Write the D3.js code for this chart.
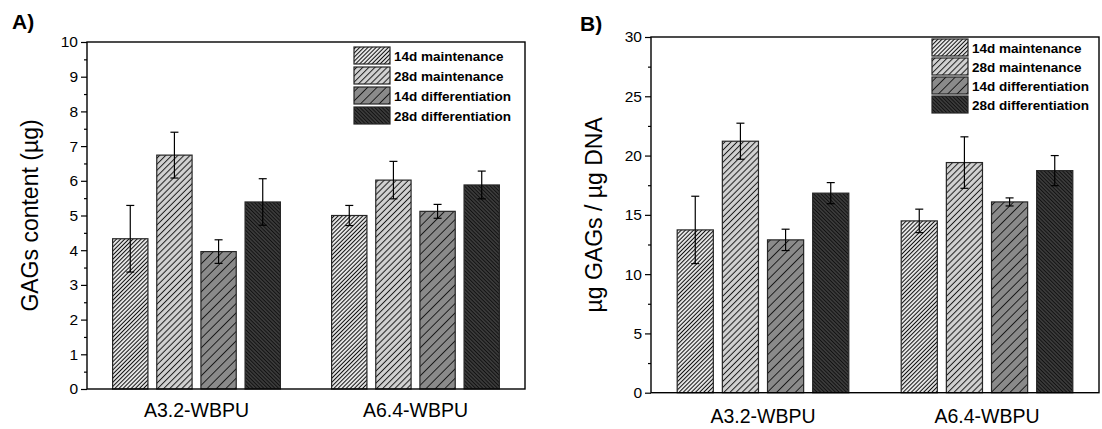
<!DOCTYPE html>
<html>
<head>
<meta charset="utf-8">
<script src="https://cdn.jsdelivr.net/npm/d3@7"></script>
<style>
  html, body { margin: 0; padding: 0; background: #fff; }
  svg { display: block; font-family: "Liberation Sans", Arial, sans-serif; }
</style>
</head>
<body>
<svg id="fig" width="1102" height="429"></svg>
<script>
// Sample groups and culture conditions
const groups = ["A3.2-WBPU", "A6.4-WBPU"];
const conditions = ["14d maintenance", "28d maintenance", "14d differentiation", "28d differentiation"];

// Panel A: GAGs content (µg), one row per group, one entry per condition
const gagContent    = [[4.33, 6.74, 3.96, 5.39], [5.00, 6.02, 5.12, 5.88]];
const gagContentErr = [[0.96, 0.66, 0.34, 0.67], [0.29, 0.54, 0.20, 0.40]];

// Panel B: µg GAGs per µg DNA
const gagPerDna    = [[13.73, 21.21, 12.89, 16.83], [14.49, 19.41, 16.09, 18.73]];
const gagPerDnaErr = [[2.84, 1.52, 0.90, 0.89], [0.99, 2.17, 0.34, 1.27]];

// Axis tick values
const ticksA      = [0, 1, 2, 3, 4, 5, 6, 7, 8, 9, 10];
const minorTicksA = [0.5, 1.5, 2.5, 3.5, 4.5, 5.5, 6.5, 7.5, 8.5, 9.5];
const ticksB      = [0, 5, 10, 15, 20, 25, 30];
const minorTicksB = [2.5, 7.5, 12.5, 17.5, 22.5, 27.5];

const FONT = "'Liberation Sans', Arial, sans-serif";

const svg = d3.select("#fig");
svg.append("rect").attr("width", 1102).attr("height", 429).attr("fill", "#fff");

// Hatch fills: background, line colour, line spacing, line width, angle
const hatchStyles = [
  { bg: "#ffffff", line: "#111", gap: 2.9, w: 1.2, angle: 45 },
  { bg: "#d2d2d2", line: "#1a1a1a", gap: 4.3, w: 1.0, angle: 45 },
  { bg: "#8a8a8a", line: "#1a1a1a", gap: 6.6, w: 1.0, angle: 45 },
  { bg: "#444444", line: "#111111", gap: 2.6, w: 1.2, angle: -45 }
];

const defs = svg.append("defs");
hatchStyles.forEach((h, i) => {
  const p = defs.append("pattern")
    .attr("id", "hatch" + i)
    .attr("patternUnits", "userSpaceOnUse")
    .attr("width", h.gap).attr("height", 10)
    .attr("patternTransform", `rotate(${h.angle})`);
  p.append("rect").attr("width", h.gap).attr("height", 10).attr("fill", h.bg);
  p.append("line").attr("x1", h.gap / 2).attr("x2", h.gap / 2)
    .attr("y1", 0).attr("y2", 10)
    .attr("stroke", h.line).attr("stroke-width", h.w);
});

function drawPanel(cfg) {
  const { left, right, top, bottom, values, errors, domainMax, ticks, minor,
          yLabel, yLabelX, panelLabel, panelLabelPos, legendPos, legendStep, xLabelPad } = cfg;
  const g = svg.append("g");

  const y = d3.scaleLinear().domain([0, domainMax]).range([bottom, top]);
  const x0 = d3.scaleBand().domain(groups).range([left, right]).padding(0);
  const x1 = d3.scaleBand().domain(conditions).range([0, x0.bandwidth()])
    .paddingInner(0.2).paddingOuter(0.58);

  // bars
  const grp = g.selectAll("g.grp").data(groups).join("g")
    .attr("transform", d => `translate(${x0(d)},0)`);
  grp.each(function (gName, gi) {
    const sel = d3.select(this);
    const rows = conditions.map((c, ci) => ({ c, ci, v: values[gi][ci], e: errors[gi][ci] }));
    sel.selectAll("rect").data(rows).join("rect")
      .attr("x", d => x1(d.c))
      .attr("y", d => y(d.v))
      .attr("width", x1.bandwidth())
      .attr("height", d => y(0) - y(d.v))
      .attr("fill", d => `url(#hatch${d.ci})`)
      .attr("stroke", "#262626").attr("stroke-width", 1.2);
    // error bars
    const eb = sel.selectAll("g.err").data(rows).join("g").attr("class", "err")
      .attr("stroke", "#000").attr("stroke-width", 1.2);
    const cx = d => x1(d.c) + x1.bandwidth() / 2;
    eb.append("line").attr("x1", cx).attr("x2", cx)
      .attr("y1", d => y(d.v + d.e)).attr("y2", d => y(d.v - d.e));
    eb.append("line").attr("x1", d => cx(d) - 4).attr("x2", d => cx(d) + 4)
      .attr("y1", d => y(d.v + d.e)).attr("y2", d => y(d.v + d.e));
    eb.append("line").attr("x1", d => cx(d) - 4).attr("x2", d => cx(d) + 4)
      .attr("y1", d => y(d.v - d.e)).attr("y2", d => y(d.v - d.e));
  });

  // y axis: minor then major ticks
  const minorAxis = g.append("g").attr("transform", `translate(${left},0)`)
    .call(d3.axisLeft(y).tickValues(minor).tickSize(3).tickFormat(""));
  minorAxis.select(".domain").remove();
  minorAxis.selectAll("line").attr("stroke", "#000").attr("stroke-width", 1.2);

  const majorAxis = g.append("g").attr("transform", `translate(${left},0)`)
    .call(d3.axisLeft(y).tickValues(ticks).tickSize(6).tickPadding(3));
  majorAxis.select(".domain").remove();
  majorAxis.selectAll("line").attr("stroke", "#000").attr("stroke-width", 1.2);
  majorAxis.selectAll("text").attr("font-size", 15.5).attr("fill", "#000")
    .attr("font-family", FONT);

  // x axis labels
  const xAxis = g.append("g").attr("transform", `translate(0,${bottom})`)
    .call(d3.axisBottom(x0).tickSize(0).tickPadding(xLabelPad));
  xAxis.select(".domain").remove();
  xAxis.selectAll("text").attr("font-size", 19.5).attr("fill", "#000")
    .attr("font-family", FONT);

  // frame
  g.append("rect").attr("x", left).attr("y", top)
    .attr("width", right - left).attr("height", bottom - top)
    .attr("fill", "none").attr("stroke", "#000").attr("stroke-width", 1.4);

  // y label
  g.append("text")
    .attr("transform", `translate(${yLabelX},${(top + bottom) / 2}) rotate(-90)`)
    .attr("text-anchor", "middle").attr("font-size", 23).attr("fill", "#000")
    .attr("font-family", FONT)
    .text(yLabel);

  // panel label
  g.append("text").attr("x", panelLabelPos[0]).attr("y", panelLabelPos[1])
    .attr("font-size", 21).attr("font-weight", "bold").attr("fill", "#000")
    .attr("font-family", FONT)
    .text(panelLabel);

  // legend
  const lg = g.append("g").attr("transform", `translate(${legendPos[0]},${legendPos[1]})`);
  const items = lg.selectAll("g").data(conditions).join("g")
    .attr("transform", (d, i) => `translate(0,${i * legendStep})`);
  items.append("rect").attr("width", 36).attr("height", 17)
    .attr("fill", (d, i) => `url(#hatch${i})`)
    .attr("stroke", "#262626").attr("stroke-width", 1.2);
  items.append("text").attr("x", 40).attr("y", 14)
    .attr("font-size", 13.5).attr("font-weight", "bold").attr("fill", "#000")
    .attr("font-family", FONT)
    .text(d => d);
}

drawPanel({
  left: 87, right: 525, top: 42, bottom: 389,
  values: gagContent, errors: gagContentErr, domainMax: 10,
  ticks: ticksA, minor: minorTicksA,
  yLabel: "GAGs content (\u00b5g)", yLabelX: 38,
  panelLabel: "A)", panelLabelPos: [12, 29],
  legendPos: [354, 47], legendStep: 20, xLabelPad: 14
});

drawPanel({
  left: 651, right: 1099, top: 37, bottom: 392.7,
  values: gagPerDna, errors: gagPerDnaErr, domainMax: 30,
  ticks: ticksB, minor: minorTicksB,
  yLabel: "\u00b5g GAGs / \u00b5g DNA", yLabelX: 602,
  panelLabel: "B)", panelLabelPos: [580, 31],
  legendPos: [932, 39], legendStep: 19, xLabelPad: 16
});
</script>
</body>
</html>
